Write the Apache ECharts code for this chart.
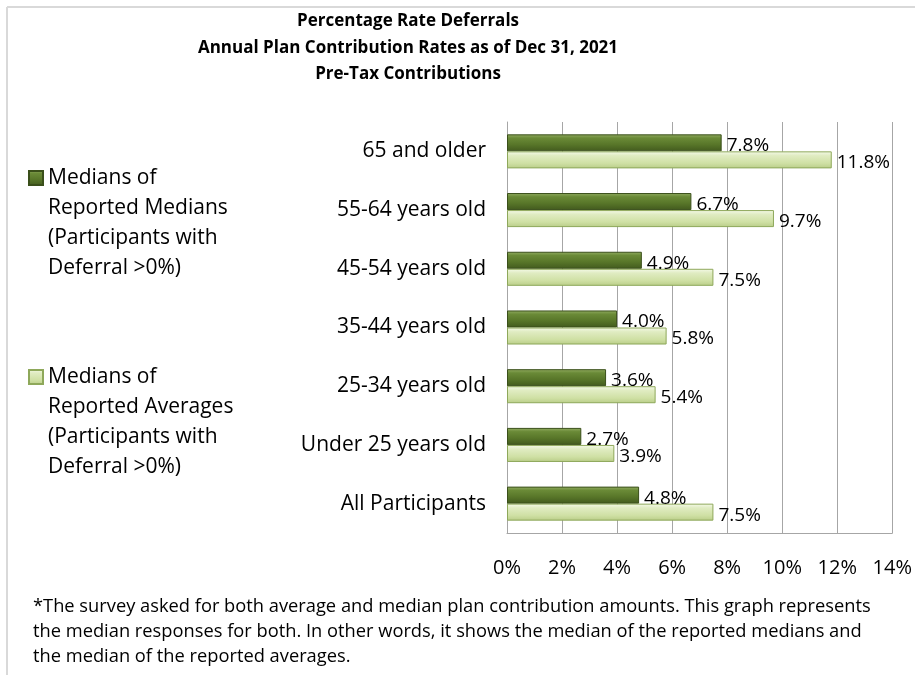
<!DOCTYPE html>
<html>
<head>
<meta charset="utf-8">
<script src="https://cdn.jsdelivr.net/npm/echarts@6/dist/echarts.min.js"></script>
<style>
  html, body { margin: 0; padding: 0; background: #fff; }
  #chart { width: 915px; height: 675px; }
</style>
</head>
<body>
<div id="chart"></div>
<script>
// Age groups, listed top to bottom
const categories = [
  '65 and older',
  '55-64 years old',
  '45-54 years old',
  '35-44 years old',
  '25-34 years old',
  'Under 25 years old',
  'All Participants'
];
// Deferral rates in percent
const mediansOfMedians = [7.8, 6.7, 4.9, 4.0, 3.6, 2.7, 4.8];
const mediansOfAverages = [11.8, 9.7, 7.5, 5.8, 5.4, 3.9, 7.5];
const xTicks = { min: 0, max: 14, interval: 2 };

const seriesNames = [
  'Medians of\nReported Medians\n(Participants with\nDeferral >0%)',
  'Medians of\nReported Averages\n(Participants with\nDeferral >0%)'
];

const titleText = 'Percentage Rate Deferrals\nAnnual Plan Contribution Rates as of Dec 31, 2021\nPre-Tax Contributions';
const noteText = '*The survey asked for both average and median plan contribution amounts. This graph represents\n' +
  'the median responses for both. In other words, it shows the median of the reported medians and\n' +
  'the median of the reported averages.';

const FONT = '"Open Sans", "Noto Sans", sans-serif';

const darkFill = new echarts.graphic.LinearGradient(0, 0, 0, 1, [
  { offset: 0, color: '#93ad63' },
  { offset: 0.22, color: '#6a8a37' },
  { offset: 0.6, color: '#587629' },
  { offset: 1, color: '#425a1e' }
]);
const lightFill = new echarts.graphic.LinearGradient(0, 0, 0, 1, [
  { offset: 0, color: '#f5faea' },
  { offset: 0.25, color: '#e0ecc2' },
  { offset: 0.7, color: '#cfe0a4' },
  { offset: 1, color: '#b9cd88' }
]);

// Legend entries: three blank lines in front keep the icon level with the first text line
function legendBlock(name, top) {
  return {
    data: [{ name: name, icon: 'rect' }],
    left: 28,
    top: top,
    orient: 'vertical',
    padding: 0,
    itemWidth: 14,
    itemHeight: 14,
    selectedMode: false,
    formatter: n => '\n\n\n' + n,
    textStyle: {
      fontFamily: FONT,
      fontSize: 21,
      color: '#000',
      lineHeight: 30
    }
  };
}

const labelStyle = {
  show: true,
  position: 'right',
  distance: 5,
  fontFamily: FONT,
  fontSize: 19,
  color: '#000',
  offset: [0, 3],
  formatter: p => p.value.toFixed(1) + '%'
};

const chart = echarts.init(document.getElementById('chart'), null, { renderer: 'canvas' });
chart.setOption({
  animation: false,
  backgroundColor: '#fff',
  title: [
    {
      text: titleText,
      left: 408,
      top: 8,
      textAlign: 'center',
      padding: 0,
      textStyle: { fontFamily: FONT, fontWeight: 'bold', fontSize: 17, lineHeight: 26.5, color: '#000' }
    },
    {
      text: noteText,
      left: 33,
      top: 594,
      padding: 0,
      textStyle: { fontFamily: FONT, fontWeight: 'normal', fontSize: 18.3, lineHeight: 25, color: '#000' }
    }
  ],
  legend: [legendBlock(seriesNames[0], 73), legendBlock(seriesNames[1], 272)],
  grid: { left: 507, right: 19, top: 122, bottom: 142, containLabel: false },
  xAxis: {
    type: 'value',
    min: xTicks.min,
    max: xTicks.max,
    interval: xTicks.interval,
    axisLine: { show: true, lineStyle: { color: '#a6a6a6', width: 1 } },
    axisTick: { show: false },
    splitLine: { show: true, lineStyle: { color: '#a6a6a6', width: 1 } },
    axisLabel: { fontFamily: FONT, fontSize: 20, color: '#000', margin: 25, formatter: '{value}%' }
  },
  yAxis: {
    type: 'category',
    data: categories,
    inverse: true,
    axisLine: { show: true, lineStyle: { color: '#a6a6a6', width: 1 } },
    axisTick: { show: false },
    axisLabel: { fontFamily: FONT, fontSize: 21, color: '#000', margin: 21, padding: [4, 0, 0, 0] }
  },
  series: [
    {
      name: seriesNames[0],
      type: 'bar',
      data: mediansOfMedians,
      barGap: '0%',
      barCategoryGap: '42%',
      itemStyle: { color: darkFill, borderColor: '#3a4f1a', borderWidth: 1 },
      label: labelStyle
    },
    {
      name: seriesNames[1],
      type: 'bar',
      data: mediansOfAverages,
      barGap: '0%',
      barCategoryGap: '42%',
      itemStyle: { color: lightFill, borderColor: '#8ea85a', borderWidth: 1 },
      label: labelStyle
    }
  ],
  graphic: [
    { type: 'line', shape: { x1: 7, y1: 7, x2: 915, y2: 7 }, style: { stroke: '#d9d9d9', lineWidth: 2 }, silent: true },
    { type: 'line', shape: { x1: 7, y1: 7, x2: 7, y2: 675 }, style: { stroke: '#d9d9d9', lineWidth: 2 }, silent: true }
  ]
});
</script>
</body>
</html>
